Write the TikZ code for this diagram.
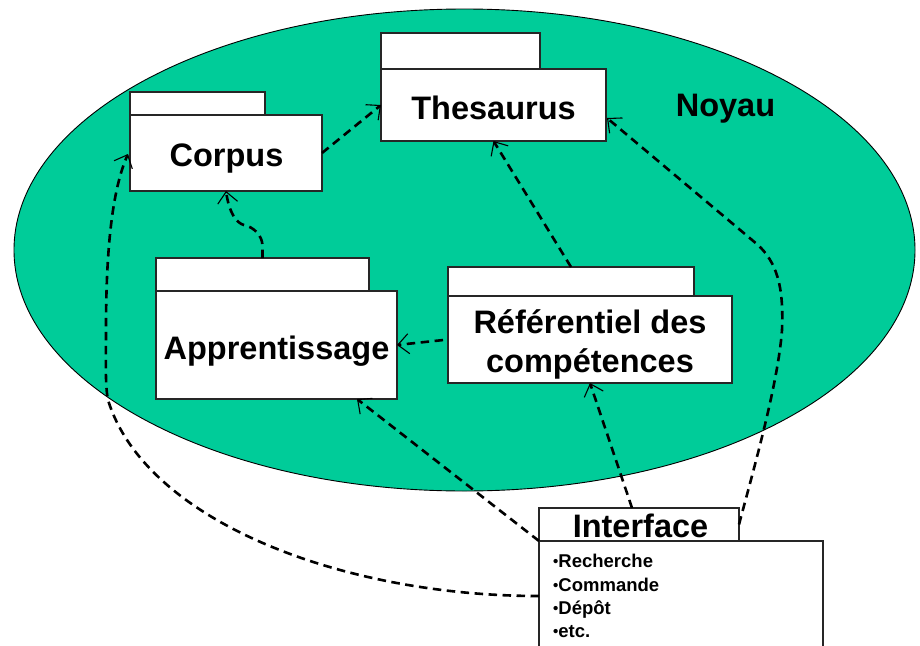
\documentclass[tikz,border=0pt]{standalone}
\usepackage{fontspec}
\setmainfont{Liberation Sans}
\usetikzlibrary{arrows.meta,calc}
\definecolor{noyaugreen}{RGB}{0,204,153}
\newcommand{\smallbullet}{\raisebox{0.8pt}{\fontsize{15}{15}\selectfont•}}
\begin{document}
\begin{tikzpicture}[x=1pt,y=-1pt,
  pkg/.style={draw=black!85, line width=1.4pt, fill=white, inner sep=0pt, outer sep=0pt, anchor=north west},
  big/.style={font=\fontsize{32.5}{39}\selectfont\bfseries, inner sep=0pt, anchor=base},
  small/.style={font=\fontsize{18.5}{23}\selectfont\bfseries, inner sep=0pt, anchor=base west},
  dep/.style={dash pattern=on 8.5pt off 5.5pt, line width=2.6pt, -{Straight Barb[length=11pt,width=20pt,line width=1.1pt]}},
]
\useasboundingbox (0,0) rectangle (920,645);
\draw[fill=noyaugreen, line width=0.9pt] (464.5,250) ellipse [x radius=450.5pt, y radius=241pt];

% Thesaurus
\node[pkg, minimum width=159pt, minimum height=36pt] (thestab) at (381,33) {};
\node[pkg, minimum width=225pt, minimum height=72pt] (thes) at (381,69) {};
\node[big] (thestxt) at (493.5,119) {Thesaurus};
% Corpus
\node[pkg, minimum width=135pt, minimum height=23pt] (corptab) at (130,92) {};
\node[pkg, minimum width=192pt, minimum height=76pt] (corp) at (130,115) {};
\node[big] (corptxt) at (226.5,166) {Corpus};
% Apprentissage
\node[pkg, minimum width=213pt, minimum height=33pt] (apprtab) at (156,258) {};
\node[pkg, minimum width=241pt, minimum height=108pt] (appr) at (156,291) {};
\node[big] (apprtxt) at (276.5,359) {Apprentissage};
% Referentiel
\node[pkg, minimum width=246pt, minimum height=29pt] (reftab) at (448,267) {};
\node[pkg, minimum width=284pt, minimum height=87pt] (ref) at (448,296) {};
\node[big] (reftxta) at (590,333) {Référentiel des};
\node[big] (reftxtb) at (590,372) {compétences};
% Interface
\node[pkg, minimum width=200pt, minimum height=33pt] (inttab) at (539,508) {};
\node[pkg, minimum width=284pt, minimum height=120pt] (int) at (539,541) {};
\node[big] (inttxt) at (640.5,537) {Interface};
\node[small] (it1) at (553,567) {\smallbullet Recherche};
\node[small] (it2) at (553,591) {\smallbullet Commande};
\node[small] (it3) at (553,614) {\smallbullet Dépôt};
\node[small] (it4) at (553,637) {\smallbullet etc.};
% Noyau
\node[big] (noyau) at (725.5,116) {Noyau};

% connectors
\draw[dep] (corp.east) -- (thes.west);
\draw[dep] (apprtab.north) -- ++(0,-12) .. controls +(0,-10) and (254,227) .. (244,225) .. controls (236,223) and (229,212) .. (corp.south);
\draw[dep, shorten <=5pt] (ref.west) -- (appr.east);
\draw[dep] (reftab.north) -- (thes.south);
\draw[dep] (inttab.east) .. controls (752,475) and (778,385) .. (782,330) .. controls (784,285) and (776,262) .. (758,245) -- ($(thes.east)+(1,13)$);
\draw[dep] ($(inttab.north)+(-7,0)$) -- (ref.south);
\draw[dep] (int.north west) -- ($(appr.south east)+(-40,0)$);
\draw[dep] ($(int.north west)+(0,55)$) .. controls (340,596) and (145,520) .. (108,400) .. controls (105,385) and (106,360) .. (106,330) .. controls (106,250) and (112,190) .. ($(corp.west)+(-2,1)$);
\end{tikzpicture}
\end{document}
